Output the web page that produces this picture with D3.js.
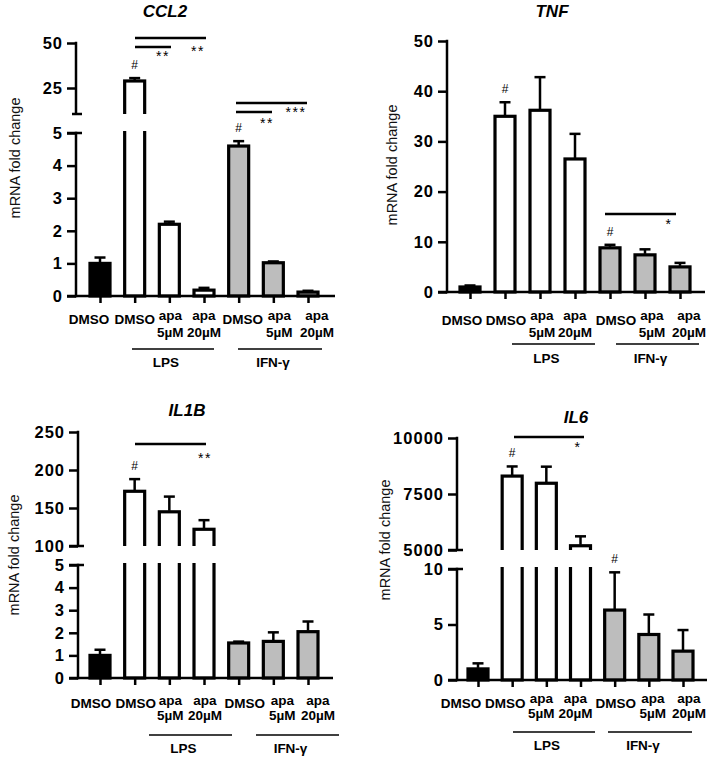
<!DOCTYPE html>
<html><head><meta charset="utf-8">
<script src="https://cdn.jsdelivr.net/npm/d3@7"></script>
<style>body{margin:0;background:#fff} svg{display:block}</style>
</head><body>
<svg id="chart" width="709" height="762"></svg>
<script>
// ---------- DATA ----------
const categories = [["DMSO"],["DMSO"],["apa","5µM"],["apa","20µM"],["DMSO"],["apa","5µM"],["apa","20µM"]];
const groupLabels = ["LPS","IFN-γ"];
const yAxisLabel = "mRNA fold change";

const ccl2Mean = [1.0, 28.9, 2.2, 0.18, 4.6, 1.02, 0.12];
const ccl2Err  = [0.18, 1.6, 0.08, 0.07, 0.15, 0.04, 0.04];
const ccl2TicksLower = [0,1,2,3,4,5];
const ccl2TicksUpper = [25,50];
const ccl2Hash = [1,4];
const ccl2Sig = [{a:1,b:3,label:"**"},{a:1,b:2,label:"**"},{a:4,b:6,label:"***"},{a:4,b:5,label:"**"}];

const tnfMean = [1.0, 35.0, 36.2, 26.5, 8.8, 7.4, 5.0];
const tnfErr  = [0.3, 2.8, 6.6, 5.0, 0.6, 1.1, 0.8];
const tnfTicks = [0,10,20,30,40,50];
const tnfHash = [1,4];
const tnfSig = [{a:4,b:6,label:"*"}];

const il1bMean = [1.0, 172, 145, 122, 1.55, 1.62, 2.05];
const il1bErr  = [0.25, 16, 20, 12, 0.06, 0.4, 0.45];
const il1bTicksLower = [0,1,2,3,4,5];
const il1bTicksUpper = [100,150,200,250];
const il1bHash = [1];
const il1bSig = [{a:1,b:3,label:"**"}];

const il6Mean = [1.0, 8300, 7980, 5190, 6.3, 4.1, 2.6];
const il6Err  = [0.5, 430, 740, 420, 3.4, 1.8, 1.9];
const il6TicksLower = [0,5,10];
const il6TicksUpper = [5000,7500,10000];
const il6Hash = [1,4];
const il6Sig = [{a:1,b:3,label:"*"}];

// ---------- STYLE / LAYOUT ----------
const barFills = ["#000","#fff","#fff","#fff","#bdbdbd","#bdbdbd","#bdbdbd"];
const FONT = "'Liberation Sans', Arial, Helvetica, sans-serif";
const barW = 20;

const panels = [
  { id:"ccl2", title:"CCL2", titlePos:[165,17], mean:ccl2Mean, err:ccl2Err, hash:ccl2Hash, sig:ccl2Sig,
    axisX:76, catRange:[100,308], xEnd:335, ylab:[15,158],
    segments:[{domain:[0,5], range:[296,133], ticks:ccl2TicksLower, top:133, bottom:296},
              {domain:[25,50], range:[88,43], ticks:ccl2TicksUpper, top:43, bottom:114, unlabeledBottom:true}],
    labelDx:[-11,0,1,0,4,6,9], labY:{single:324,l1:320,l2:337},
    groupLines:[[132,214],[238,322]], groupLineY:349, groupLabelY:367,
    sigLayout:[{x1:135,x2:206,y:38,sx:198,sy:56},{x1:135,x2:171,y:47,sx:163,sy:61},
               {x1:236,x2:307,y:103,sx:296,sy:117},{x1:236,x2:272,y:112,sx:267,sy:128}] },
  { id:"tnf", title:"TNF", titlePos:[552,17], mean:tnfMean, err:tnfErr, hash:tnfHash, sig:tnfSig,
    axisX:447, catRange:[470,680], xEnd:705, ylab:[392,165],
    segments:[{domain:[0,50], range:[292,41], ticks:tnfTicks, top:41, bottom:292}],
    labelDx:[-8,1,2,0,6,7,9], labY:{single:325,l1:320,l2:337},
    groupLines:[[512,595],[616,699]], groupLineY:344, groupLabelY:363,
    sigLayout:[{x1:605,x2:676,y:214,sx:669,sy:229}] },
  { id:"il1b", title:"IL1B", titlePos:[187,416], mean:il1bMean, err:il1bErr, hash:il1bHash, sig:il1bSig,
    axisX:78, catRange:[100,308], xEnd:333, ylab:[14,555],
    segments:[{domain:[0,5], range:[678,565], ticks:il1bTicksLower, top:565, bottom:678},
              {domain:[100,250], range:[546,432], ticks:il1bTicksUpper, top:432, bottom:546}],
    labelDx:[-9,1,1,1,6,9,10], labY:{single:708,l1:705,l2:720},
    groupLines:[[149,232],[256,339]], groupLineY:735, groupLabelY:753,
    sigLayout:[{x1:135,x2:206,y:444,sx:205,sy:463}] },
  { id:"il6", title:"IL6", titlePos:[576,423], mean:il6Mean, err:il6Err, hash:il6Hash, sig:il6Sig,
    axisX:457, catRange:[478,683], xEnd:707, ylab:[385,540],
    segments:[{domain:[0,10], range:[680,569], ticks:il6TicksLower, top:569, bottom:680},
              {domain:[5000,10000], range:[550,438], ticks:il6TicksUpper, top:438, bottom:550}],
    labelDx:[-17,-7,-5,-5,1,4,6], labY:{single:708,l1:703,l2:718},
    groupLines:[[513,595],[608,692]], groupLineY:732, groupLabelY:750,
    sigLayout:[{x1:514,x2:584,y:437,sx:578,sy:452}] }
];

const svg = d3.select("#chart");
const defs = svg.append("defs");

function drawPanel(p) {
  const g = svg.append("g");
  const n = categories.length;
  const x = d3.scalePoint().domain(d3.range(n)).range(p.catRange);
  const segs = p.segments.map(s => {
    const y = d3.scaleLinear().domain(s.domain).range(s.range);
    return Object.assign({}, s, {y, vMin: y.invert(s.bottom), vMax: y.invert(s.top)});
  });
  const axisY = segs[0].y(0);

  segs.forEach((s, si) => {
    const id = `clip-${p.id}-${si}`;
    defs.append("clipPath").attr("id", id).append("rect")
      .attr("x", p.axisX + 1).attr("y", s.top - 2)
      .attr("width", p.xEnd - p.axisX + 5)
      .attr("height", (si === 0 ? s.bottom + 3 : s.bottom) - (s.top - 2));
    const sg = g.append("g").attr("clip-path", `url(#${id})`);
    const bars = d3.range(n).filter(i => p.mean[i] > s.vMin);
    const rectBottom = si === 0 ? axisY : s.bottom + 10;
    const topY = i => Math.max(s.y(p.mean[i]), s.top - 20);
    sg.selectAll("rect.bar").data(bars).join("rect").attr("class","bar")
      .attr("x", i => x(i) - barW/2).attr("y", topY)
      .attr("width", barW).attr("height", i => rectBottom - topY(i))
      .attr("fill", i => barFills[i]).attr("stroke", "#000").attr("stroke-width", 3.2);
    const errs = d3.range(n).filter(i => p.mean[i] > s.vMin && p.mean[i] <= s.vMax);
    sg.selectAll("line.ev").data(errs).join("line").attr("class","ev")
      .attr("x1", i => x(i)).attr("x2", i => x(i))
      .attr("y1", i => s.y(p.mean[i]) - 1).attr("y2", i => s.y(p.mean[i] + p.err[i]))
      .attr("stroke", "#000").attr("stroke-width", 2.5);
    sg.selectAll("line.ec").data(errs).join("line").attr("class","ec")
      .attr("x1", i => x(i) - 5.5).attr("x2", i => x(i) + 5.5)
      .attr("y1", i => s.y(p.mean[i] + p.err[i])).attr("y2", i => s.y(p.mean[i] + p.err[i]))
      .attr("stroke", "#000").attr("stroke-width", 2.5);
    const hs = p.hash.filter(i => p.mean[i] > s.vMin && p.mean[i] <= s.vMax);
    g.selectAll(null).data(hs).join("text")
      .attr("x", i => x(i)).attr("y", i => s.y(p.mean[i] + p.err[i]) - 9)
      .attr("text-anchor", "middle").attr("font-family", FONT).attr("font-size", 12)
      .text("#");

    const ax = d3.axisLeft(s.y).tickValues(s.ticks).tickFormat(d3.format("d"))
      .tickSize(9).tickPadding(4).tickSizeOuter(0);
    const ag = g.append("g").attr("transform", `translate(${p.axisX},0)`).call(ax);
    ag.select(".domain").remove();
    ag.selectAll(".tick line").attr("stroke", "#000").attr("stroke-width", 2.5);
    ag.selectAll(".tick text").attr("font-family", FONT).attr("font-size", 16.5)
      .attr("font-weight", "bold").attr("letter-spacing", "1px").attr("fill", "#000");
    g.append("line").attr("x1", p.axisX).attr("x2", p.axisX)
      .attr("y1", s.top - 1.25).attr("y2", si === 0 ? s.bottom + 1.25 : s.bottom)
      .attr("stroke", "#000").attr("stroke-width", 2.5);
    if (segs.length > 1) {
      if (si === 0) {
        g.append("line").attr("x1", p.axisX - 9).attr("x2", p.axisX + 6)
          .attr("y1", s.top).attr("y2", s.top).attr("stroke", "#000").attr("stroke-width", 2.5);
      } else {
        g.append("line").attr("x1", p.axisX - (s.unlabeledBottom ? 4 : 9)).attr("x2", p.axisX + 6)
          .attr("y1", s.bottom).attr("y2", s.bottom).attr("stroke", "#000").attr("stroke-width", 2.5);
      }
    }
  });

  const xa = d3.axisBottom(x).tickSize(7).tickFormat("").tickSizeOuter(0);
  const xg = g.append("g").attr("transform", `translate(0,${axisY})`).call(xa);
  xg.select(".domain").remove();
  xg.selectAll(".tick line").attr("stroke", "#000").attr("stroke-width", 2.5);
  g.append("line").attr("x1", p.axisX - 9).attr("x2", p.xEnd)
    .attr("y1", axisY).attr("y2", axisY).attr("stroke", "#000").attr("stroke-width", 2.5);

  categories.forEach((lines, i) => {
    const t = g.append("text").attr("text-anchor", "middle").attr("font-family", FONT)
      .attr("font-size", 13.5).attr("font-weight", "bold").attr("fill", "#000");
    const cx = x(i) + p.labelDx[i];
    if (lines.length === 1) {
      t.attr("x", cx).attr("y", p.labY.single).text(lines[0]);
    } else {
      t.append("tspan").attr("x", cx).attr("y", p.labY.l1).text(lines[0]);
      t.append("tspan").attr("x", cx).attr("y", p.labY.l2).text(lines[1]);
    }
  });

  groupLabels.forEach((lab, k) => {
    const [x1, x2] = p.groupLines[k];
    g.append("line").attr("x1", x1).attr("x2", x2).attr("y1", p.groupLineY).attr("y2", p.groupLineY)
      .attr("stroke", "#000").attr("stroke-width", 1.5);
    g.append("text").attr("x", (x1 + x2) / 2 - 7).attr("y", p.groupLabelY)
      .attr("text-anchor", "middle").attr("font-family", FONT).attr("font-size", 13.5)
      .attr("font-weight", "bold").text(lab);
  });

  p.sig.forEach((s, k) => {
    const L = p.sigLayout[k];
    g.append("line").attr("x1", L.x1).attr("x2", L.x2).attr("y1", L.y).attr("y2", L.y)
      .attr("stroke", "#000").attr("stroke-width", 2.5);
    g.append("text").attr("x", L.sx).attr("y", L.sy).attr("text-anchor", "middle")
      .attr("font-family", FONT).attr("font-size", 14).attr("letter-spacing", "1.5px")
      .text(s.label);
  });

  g.append("text").attr("x", p.titlePos[0]).attr("y", p.titlePos[1]).attr("text-anchor", "middle")
    .attr("font-family", FONT).attr("font-size", 17).attr("font-weight", "bold")
    .attr("font-style", "italic").text(p.title);

  g.append("text").attr("transform", `translate(${p.ylab[0]},${p.ylab[1]}) rotate(-90)`)
    .attr("text-anchor", "middle").attr("dominant-baseline", "central")
    .attr("font-family", FONT).attr("font-size", 14.5).attr("fill", "#111").text(yAxisLabel);
}

panels.forEach(drawPanel);
</script>
</body></html>
